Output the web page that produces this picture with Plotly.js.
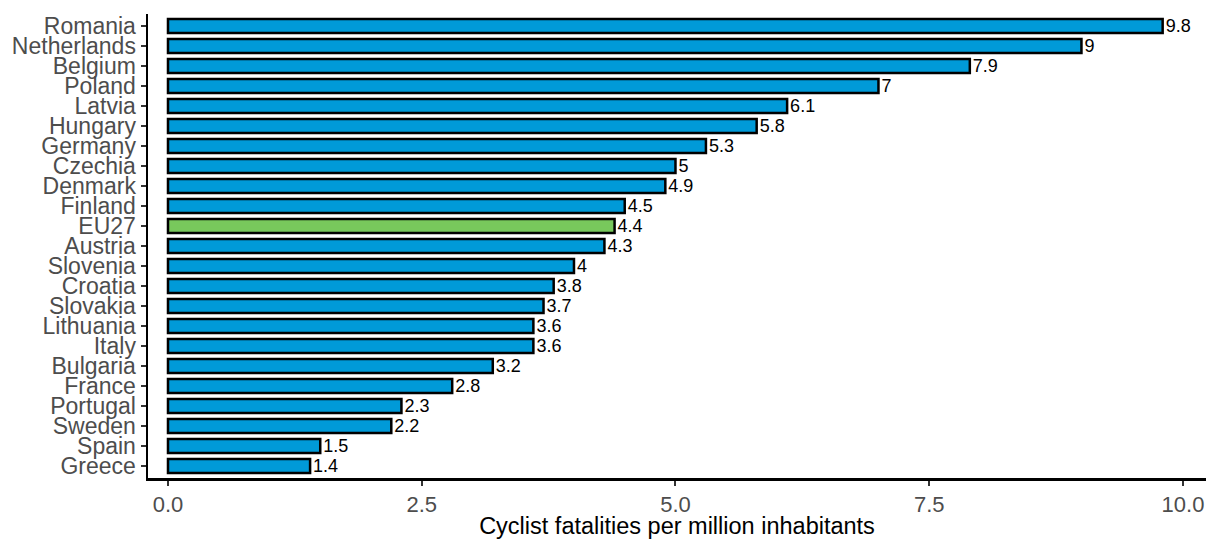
<!DOCTYPE html>
<html>
<head>
<meta charset="utf-8">
<script src="https://cdn.plot.ly/plotly-3.0.1.min.js"></script>
<style>html,body{margin:0;padding:0;background:#fff;}#chart{width:1208px;height:539px;}</style>
</head>
<body>
<div id="chart"></div>
<script>
const countries = ["Romania","Netherlands","Belgium","Poland","Latvia","Hungary","Germany","Czechia","Denmark","Finland","EU27","Austria","Slovenia","Croatia","Slovakia","Lithuania","Italy","Bulgaria","France","Portugal","Sweden","Spain","Greece"];
const fatalities = [9.8,9,7.9,7,6.1,5.8,5.3,5,4.9,4.5,4.4,4.3,4,3.8,3.7,3.6,3.6,3.2,2.8,2.3,2.2,1.5,1.4];
const highlight = "EU27";
const xTicks = [0,2.5,5,7.5,10];
const xTickLabels = ["0.0","2.5","5.0","7.5","10.0"];

const colors = countries.map(c => c === highlight ? "#78C85C" : "#009AD8");

const trace = {
  type: "bar",
  orientation: "h",
  y: countries,
  x: fatalities,
  width: 0.7,
  marker: {color: colors, line: {color: "#000", width: 2.5}},
  text: fatalities.map(v => String(v)),
  textposition: "outside",
  constraintext: "none",
  textfont: {family: "Liberation Sans, Arial, sans-serif", size: 18, color: "#000"},
  cliponaxis: false,
  hoverinfo: "none"
};

const layout = {
  width: 1208, height: 539,
  margin: {l: 148, r: 2, t: 14, b: 61},
  paper_bgcolor: "#fff", plot_bgcolor: "#fff",
  font: {family: "Liberation Sans, Arial, sans-serif"},
  showlegend: false,
  xaxis: {
    range: [-0.197, 10.227],
    tickmode: "array", tickvals: xTicks, ticktext: xTickLabels,
    showgrid: false, zeroline: false,
    showline: true, linecolor: "#000", linewidth: 2.5,
    ticks: "outside", ticklen: 5, tickwidth: 2, tickcolor: "#333",
    tickfont: {size: 22, color: "#4d4d4d"},
    title: {text: "Cyclist fatalities per million inhabitants", font: {size: 23.5, color: "#000"}, standoff: 15}
  },
  yaxis: {
    type: "category",
    categoryorder: "array",
    categoryarray: countries.slice().reverse(),
    tickmode: "array",
    tickvals: countries,
    ticktext: countries,
    range: [-0.6, 22.6],
    showgrid: false, zeroline: false,
    showline: true, linecolor: "#000", linewidth: 2.5,
    ticks: "outside", ticklen: 5, tickwidth: 2, tickcolor: "#333",
    tickfont: {size: 23, color: "#4d4d4d"},
    ticklabelstandoff: 0
  }
};

Plotly.newPlot("chart", [trace], layout, {displayModeBar: false, staticPlot: true});
</script>
</body>
</html>
